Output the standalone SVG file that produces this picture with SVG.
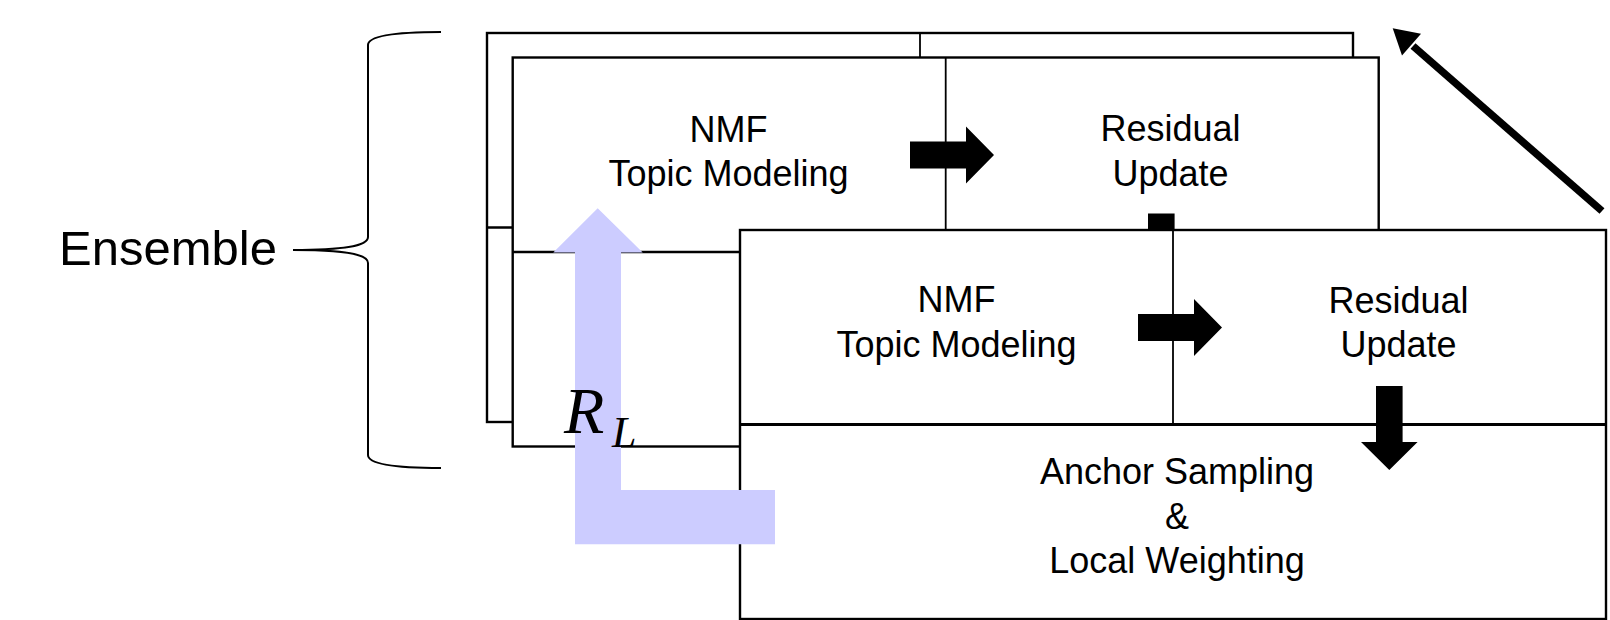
<svg xmlns="http://www.w3.org/2000/svg" width="1610" height="620" viewBox="0 0 1610 620">
<style>
.box{fill:#fff;stroke:#000;stroke-width:2.4}
.vdiv{stroke:#000;stroke-width:1.8}
.hdiv{stroke:#000;stroke-width:2.6}
.hdivc{stroke:#000;stroke-width:3}
.lbl{font-family:"Liberation Sans",Arial,sans-serif;font-size:36px;fill:#000;text-anchor:middle}
.blk{fill:#000}
.math{font-family:"Liberation Serif","Times New Roman",serif;font-style:italic;fill:#000}
</style>
<defs>
<polygon id="rarrow" points="0,0 56,0 56,-15 84,13.5 56,42 56,27 0,27"/>
<polygon id="darrow" points="0,0 26.6,0 26.6,56 41.6,56 13.3,84 -15,56 0,56"/>
</defs>

<g id="layer-back">
<rect class="box" x="487" y="33" width="866" height="389"/>
<line class="vdiv" x1="920" y1="33" x2="920" y2="227.5"/>
<line class="hdiv" x1="487" y1="227.5" x2="1353" y2="227.5"/>
</g>

<g id="layer-middle">
<rect class="box" x="512.7" y="57.5" width="866" height="389"/>
<line class="vdiv" x1="945.7" y1="57.5" x2="945.7" y2="252"/>
<line class="hdiv" x1="512.7" y1="252" x2="1378.7" y2="252"/>
<g id="mid-nmf">
<text class="lbl" x="728.5" y="142">NMF</text>
<text class="lbl" x="728.5" y="185.5">Topic Modeling</text>
</g>
<g id="mid-residual">
<text class="lbl" x="1170.5" y="141">Residual</text>
<text class="lbl" x="1170.5" y="186">Update</text>
</g>
</g>

<g id="mid-arrows">
<use href="#rarrow" class="blk" x="910" y="141.5"/>
<use href="#darrow" class="blk" x="1148" y="213.5"/>
</g>

<g id="layer-front">
<rect class="box" x="740" y="230" width="866" height="389"/>
<line class="vdiv" x1="1173" y1="230" x2="1173" y2="424.5"/>
<line class="hdivc" x1="740" y1="424.5" x2="1606" y2="424.5"/>
<g id="front-nmf">
<text class="lbl" x="956.5" y="312">NMF</text>
<text class="lbl" x="956.5" y="357">Topic Modeling</text>
</g>
<g id="front-residual">
<text class="lbl" x="1398.5" y="313">Residual</text>
<text class="lbl" x="1398.5" y="357">Update</text>
</g>
<g id="front-anchor">
<text class="lbl" x="1177" y="483.5">Anchor Sampling</text>
<text class="lbl" x="1177" y="528.5">&amp;</text>
<text class="lbl" x="1177" y="573">Local Weighting</text>
</g>
</g>

<g id="connectors">
<use href="#rarrow" class="blk" x="1138" y="314"/>
<use href="#darrow" class="blk" x="1376" y="386"/>
<polygon fill="#ccccff" points="597.7,208.3 642.7,252.5 621,252.5 621,490 775,490 775,544.3 575,544.3 575,252.5 553.3,252.5"/>
<line x1="1602" y1="211" x2="1413" y2="46" stroke="#000" stroke-width="7.5"/>
<polygon class="blk" points="1392.7,28.3 1421,33.8 1402,55.6"/>
</g>

<g id="label-RL">
<text class="math" x="564" y="433" font-size="66">R</text>
<text class="math" x="612" y="447" font-size="44">L</text>
</g>

<g id="ensemble">
<path d="M441,32 C396,32 368,36 368,45 L368,237 C368,246 345,250 293,250 C345,250 368,254 368,263 L368,455 C368,464 396,468 441,468" fill="none" stroke="#000" stroke-width="2"/>
<text x="59" y="265" font-family="'Liberation Sans',Arial,sans-serif" font-size="49" fill="#000">Ensemble</text>
</g>
</svg>
